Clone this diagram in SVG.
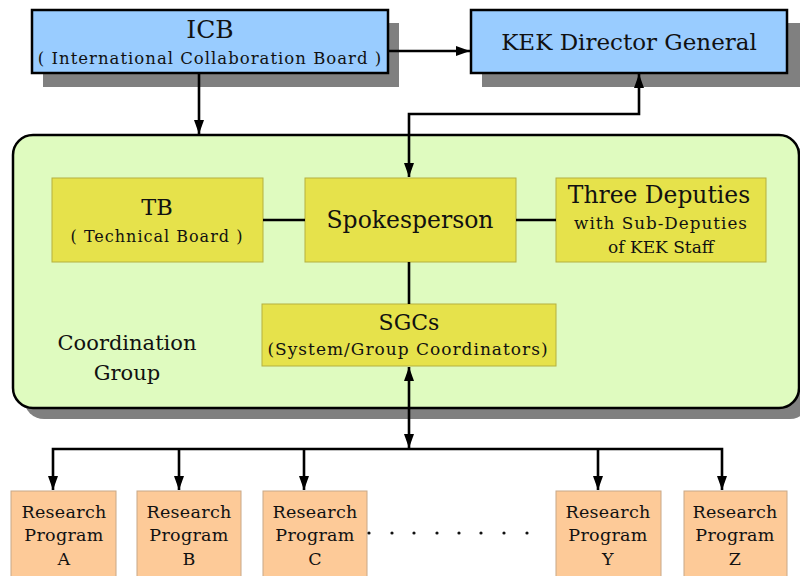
<svg xmlns="http://www.w3.org/2000/svg" width="800" height="576" viewBox="0 0 800 576">
<style>
text{font-family:"DejaVu Serif","Liberation Serif",serif;fill:#111;text-anchor:middle}
.blue{fill:#99ccff;stroke:#000;stroke-width:2.5}
.shadow{fill:#808080}
.yel{fill:#e6e24b;stroke:#b5b040;stroke-width:1}
.peach{fill:#fdca98;stroke:#c8a888;stroke-width:1}
.green{fill:#dffbbf;stroke:#000;stroke-width:2.5}
.sp{letter-spacing:1px}
.rp{font-size:17.5px;letter-spacing:0.3px}
.conn path{fill:none;stroke:#000;stroke-width:2.6}
</style>
<defs>
<marker id="ah" viewBox="0 0 14 10" refX="14" refY="5" markerWidth="14" markerHeight="10" markerUnits="userSpaceOnUse" orient="auto-start-reverse">
<path d="M0,0 L14,5 L0,10 z" fill="#000"/>
</marker>
</defs>
<rect width="800" height="576" fill="#fff"/>

<g id="coordination-group">
<rect class="shadow" x="24" y="146" width="786" height="273" rx="20"/>
<rect class="green" x="13" y="135" width="786" height="273" rx="20"/>
<text x="127" y="350" font-size="21">Coordination</text>
<text x="127" y="380" font-size="21">Group</text>
</g>

<g id="icb">
<rect class="shadow" x="43" y="23" width="356" height="64"/>
<rect class="blue" x="32" y="10" width="356" height="63"/>
<text x="210" y="38" font-size="25">ICB</text>
<text class="sp" x="210" y="64" font-size="16.5">( International Collaboration Board )</text>
</g>

<g id="kek">
<rect class="shadow" x="482" y="23" width="318" height="64"/>
<rect class="blue" x="471" y="10" width="316" height="63"/>
<text x="629" y="50" font-size="23">KEK Director General</text>
</g>

<g id="tb">
<rect class="yel" x="52" y="178" width="211" height="84"/>
<text x="157" y="215" font-size="22.5">TB</text>
<text class="sp" x="157" y="242" font-size="16">( Technical Board )</text>
</g>

<g id="spokesperson">
<rect class="yel" x="305" y="178" width="211" height="84"/>
<text x="410" y="228" font-size="23.5">Spokesperson</text>
</g>

<g id="deputies">
<rect class="yel" x="556" y="178" width="210" height="84"/>
<text x="659" y="203" font-size="23.4">Three Deputies</text>
<text class="sp" x="661" y="229" font-size="16.8">with  Sub-Deputies</text>
<text x="661" y="253" font-size="17">of KEK Staff</text>
</g>

<g id="sgcs">
<rect class="yel" x="262" y="304" width="294" height="62"/>
<text x="409" y="330" font-size="22">SGCs</text>
<text class="sp" x="408" y="355" font-size="17">(System/Group Coordinators)</text>
</g>

<g id="rp-a">
<rect class="peach" x="11" y="491" width="105" height="95"/>
<text class="rp" x="64" y="518">Research</text>
<text class="rp" x="64" y="541">Program</text>
<text class="rp" x="64" y="565">A</text>
</g>
<g id="rp-b">
<rect class="peach" x="137" y="491" width="104" height="95"/>
<text class="rp" x="189" y="518">Research</text>
<text class="rp" x="189" y="541">Program</text>
<text class="rp" x="189" y="565">B</text>
</g>
<g id="rp-c">
<rect class="peach" x="263" y="491" width="104" height="95"/>
<text class="rp" x="315" y="518">Research</text>
<text class="rp" x="315" y="541">Program</text>
<text class="rp" x="315" y="565">C</text>
</g>
<g id="rp-y">
<rect class="peach" x="556" y="491" width="105" height="95"/>
<text class="rp" x="608" y="518">Research</text>
<text class="rp" x="608" y="541">Program</text>
<text class="rp" x="608" y="565">Y</text>
</g>
<g id="rp-z">
<rect class="peach" x="684" y="491" width="103" height="95"/>
<text class="rp" x="735" y="518">Research</text>
<text class="rp" x="735" y="541">Program</text>
<text class="rp" x="735" y="565">Z</text>
</g>

<g id="ellipsis" fill="#111">
<circle cx="369" cy="533" r="1.6"/>
<circle cx="392" cy="533" r="1.6"/>
<circle cx="414" cy="533" r="1.6"/>
<circle cx="437" cy="533" r="1.6"/>
<circle cx="459" cy="533" r="1.6"/>
<circle cx="481" cy="533" r="1.6"/>
<circle cx="504" cy="533" r="1.6"/>
<circle cx="527" cy="533" r="1.6"/>
</g>

<g class="conn" id="connectors">
<path d="M199,73 V134" marker-end="url(#ah)"/>
<path d="M388,51 H470" marker-end="url(#ah)"/>
<path d="M409,177 V114 H639 V74" marker-start="url(#ah)" marker-end="url(#ah)"/>
<path d="M263,220 H305"/>
<path d="M516,220 H556"/>
<path d="M409,262 V304"/>
<path d="M409,367 V448" marker-start="url(#ah)" marker-end="url(#ah)"/>
<path d="M53,490 V449 H722 V490" marker-start="url(#ah)" marker-end="url(#ah)"/>
<path d="M179,449 V490" marker-end="url(#ah)"/>
<path d="M304,449 V490" marker-end="url(#ah)"/>
<path d="M598,449 V490" marker-end="url(#ah)"/>
</g>
</svg>
